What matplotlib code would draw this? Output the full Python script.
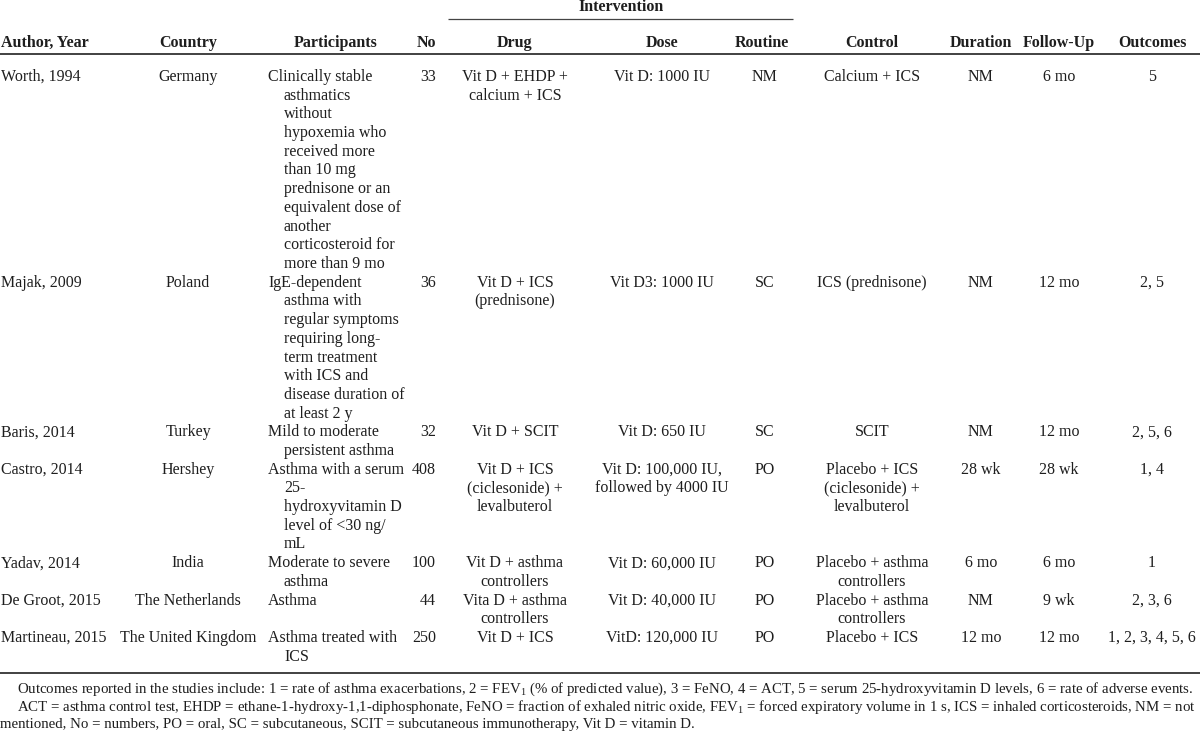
import matplotlib.pyplot as plt

plt.rcParams['font.family'] = 'Liberation Serif'
plt.rcParams['mathtext.fontset'] = 'custom'
plt.rcParams['mathtext.rm'] = 'Liberation Serif'
plt.rcParams['mathtext.it'] = 'Liberation Serif:italic'

# table content
headers = ["Author, Year", "Country", "Participants", "No", "Drug", "Dose",
           "Routine", "Control", "Duration", "Follow-Up", "Outcomes"]
authors = ["Worth, 1994", "Majak, 2009", "Baris, 2014", "Castro, 2014",
           "Yadav, 2014", "De Groot, 2015", "Martineau, 2015"]
countries = ["Germany", "Poland", "Turkey", "Hershey", "India",
             "The Netherlands", "The United Kingdom"]
participants = [
    "Clinically stable\nasthmatics\nwithout\nhypoxemia who\nreceived more\nthan 10 mg\n"
    "prednisone or an\nequivalent dose of\nanother\ncorticosteroid for\nmore than 9 mo",
    "IgE-dependent\nasthma with\nregular symptoms\nrequiring long-\nterm treatment\n"
    "with ICS and\ndisease duration of\nat least 2 y",
    "Mild to moderate\npersistent asthma",
    "Asthma with a serum\n25-\nhydroxyvitamin D\nlevel of <30 ng/\nmL",
    "Moderate to severe\nasthma",
    "Asthma",
    "Asthma treated with\nICS",
]
numbers = ["33", "36", "32", "408", "100", "44", "250"]
drugs = ["Vit D + EHDP +\ncalcium + ICS", "Vit D + ICS\n(prednisone)", "Vit D + SCIT",
         "Vit D + ICS\n(ciclesonide) +\nlevalbuterol", "Vit D + asthma\ncontrollers",
         "Vita D + asthma\ncontrollers", "Vit D + ICS"]
doses = ["Vit D: 1000 IU", "Vit D3: 1000 IU", "Vit D: 650 IU",
         "Vit D: 100,000 IU,\nfollowed by 4000 IU", "Vit D: 60,000 IU",
         "Vit D: 40,000 IU", "VitD: 120,000 IU"]
routines = ["NM", "SC", "SC", "PO", "PO", "PO", "PO"]
controls = ["Calcium + ICS", "ICS (prednisone)", "SCIT",
            "Placebo + ICS\n(ciclesonide) +\nlevalbuterol", "Placebo + asthma\ncontrollers",
            "Placebo + asthma\ncontrollers", "Placebo + ICS"]
durations = ["NM", "NM", "NM", "28 wk", "6 mo", "NM", "12 mo"]
followups = ["6 mo", "12 mo", "12 mo", "28 wk", "6 mo", "9 wk", "12 mo"]
outcomes = ["5", "2, 5", "2, 5, 6", "1, 4", "1", "2, 3, 6", "1, 2, 3, 4, 5, 6"]

footnotes = [
    "Outcomes reported in the studies include: 1 = rate of asthma exacerbations, "
    "2 = FEV$_1$ (% of predicted value), 3 = FeNO, 4 = ACT, 5 = serum 25-hydroxyvitamin D "
    "levels, 6 = rate of adverse events.",
    "ACT = asthma control test, EHDP = ethane-1-hydroxy-1,1-diphosphonate, FeNO = fraction "
    "of exhaled nitric oxide, FEV$_1$ = forced expiratory volume in 1 s, ICS = inhaled "
    "corticosteroids, NM = not",
    "mentioned, No = numbers, PO = oral, SC = subcutaneous, SCIT = subcutaneous "
    "immunotherapy, Vit D = vitamin D.",
]

columns = [authors, countries, participants, numbers, drugs, doses, routines,
           controls, durations, followups, outcomes]

# layout in pixel units
col_x = [1, 188, 268, 436, 515, 662, 765, 872, 981, 1059, 1152]
col_ha = ['left', 'center', 'left', 'right', 'center', 'center', 'center',
          'center', 'center', 'center', 'center']
head_x = [1, 188, 377, 436, 515, 662, 762, 872, 981, 1059, 1152]
head_ha = ['left', 'center', 'right', 'right', 'center', 'center', 'center',
           'center', 'center', 'center', 'center']
ink = '#1e1e1e'
body_size = 11.5
line_h = 18.7

fig = plt.figure(figsize=(12, 7.31), dpi=100)
ax = fig.add_axes([0, 0, 1, 1])
ax.set_xlim(0, 1200)
ax.set_ylim(731, 0)
ax.axis('off')

# header
ax.text(621, 11, "Intervention", ha='center', va='baseline', fontsize=body_size,
        fontweight='bold', color=ink)
ax.plot([448, 793], [18.5, 18.5], color='#444444', lw=0.9, solid_capstyle='butt')
for h, x, ha in zip(headers, head_x, head_ha):
    ax.text(x, 47, h, ha=ha, va='baseline', fontsize=body_size, fontweight='bold', color=ink)
ax.plot([0, 1200], [53.5, 53.5], color='#333333', lw=1.3, solid_capstyle='butt')

# body rows
y0 = 81
for r in range(len(authors)):
    nlines = 0
    for c, col in enumerate(columns):
        lines = col[r].split('\n')
        nlines = max(nlines, len(lines))
        for k, ln in enumerate(lines):
            x = col_x[c]
            if c == 2 and k > 0:
                x += 16
            ax.text(x, y0 + k * line_h, ln, ha=col_ha[c], va='baseline',
                    fontsize=body_size, color=ink)
    y0 += nlines * line_h

ax.plot([0, 1200], [672.5, 672.5], color='#333333', lw=1.3, solid_capstyle='butt')

# footnotes: first two lines sized to fill the full width
renderer = fig.canvas.get_renderer()
foot_y = [693, 711, 728]
foot_x = [17, 17, 0]
foot_end = [1197, 1196, None]
sizes = []
for i, line in enumerate(footnotes):
    t = ax.text(foot_x[i], foot_y[i], line, fontsize=10.8, va='baseline', color=ink)
    if foot_end[i] is not None:
        for _ in range(3):
            w = t.get_window_extent(renderer).width
            t.set_fontsize(t.get_fontsize() * (foot_end[i] - foot_x[i]) / w)
        sizes.append(t.get_fontsize())
    else:
        t.set_fontsize(min(sizes))

fig.savefig('out.png', dpi=100)
